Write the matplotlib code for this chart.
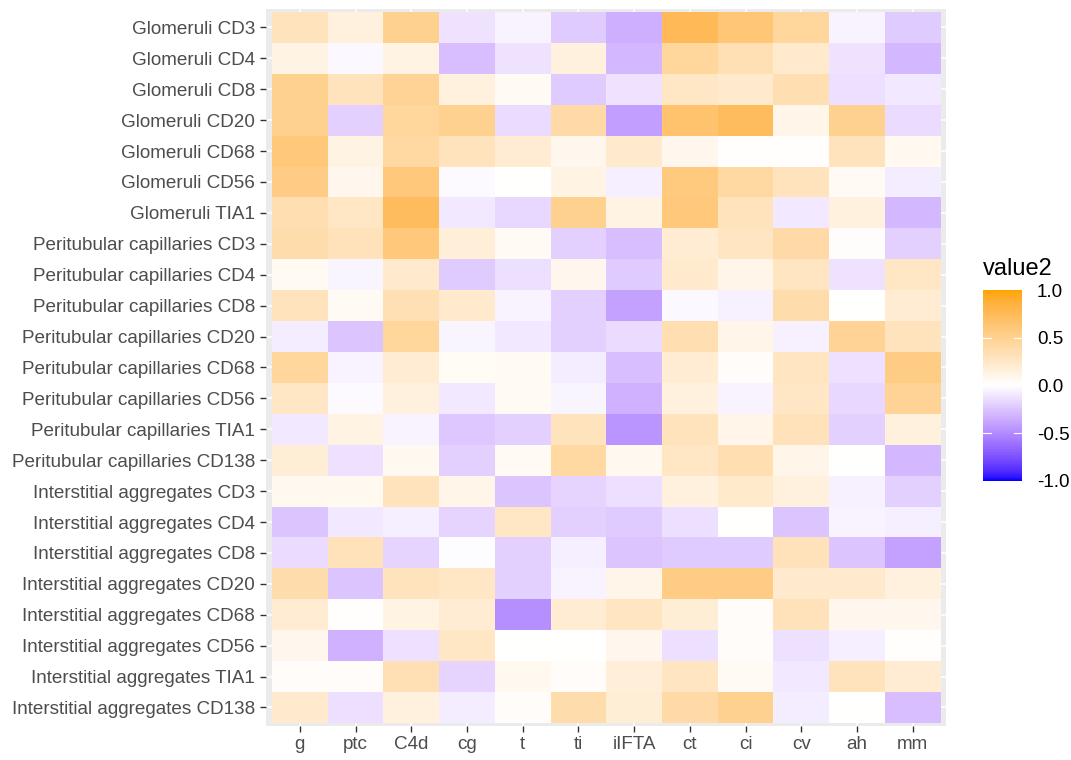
import numpy as np
import matplotlib
matplotlib.use("Agg")
import matplotlib.pyplot as plt
from matplotlib.colors import ListedColormap

rows = ["Glomeruli CD3", "Glomeruli CD4", "Glomeruli CD8", "Glomeruli CD20",
        "Glomeruli CD68", "Glomeruli CD56", "Glomeruli TIA1",
        "Peritubular capillaries CD3", "Peritubular capillaries CD4",
        "Peritubular capillaries CD8", "Peritubular capillaries CD20",
        "Peritubular capillaries CD68", "Peritubular capillaries CD56",
        "Peritubular capillaries TIA1", "Peritubular capillaries CD138",
        "Interstitial aggregates CD3", "Interstitial aggregates CD4",
        "Interstitial aggregates CD8", "Interstitial aggregates CD20",
        "Interstitial aggregates CD68", "Interstitial aggregates CD56",
        "Interstitial aggregates TIA1", "Interstitial aggregates CD138"]
cols = ["g", "ptc", "C4d", "cg", "t", "ti", "iIFTA", "ct", "ci", "cv", "ah", "mm"]

# one list per row, in column order
glom_cd3 = [0.30, 0.15, 0.50, -0.12, -0.05, -0.22, -0.35, 0.75, 0.62, 0.45, -0.05, -0.22]
glom_cd4 = [0.12, -0.03, 0.12, -0.28, -0.12, 0.15, -0.30, 0.45, 0.33, 0.22, -0.12, -0.30]
glom_cd8 = [0.50, 0.30, 0.48, 0.15, 0.05, -0.22, -0.12, 0.25, 0.22, 0.35, -0.14, -0.10]
glom_cd20 = [0.50, -0.20, 0.45, 0.50, -0.15, 0.40, -0.42, 0.65, 0.73, 0.10, 0.50, -0.15]
glom_cd68 = [0.60, 0.12, 0.42, 0.30, 0.20, 0.08, 0.22, 0.08, 0.01, 0.01, 0.30, 0.07]
glom_cd56 = [0.55, 0.08, 0.60, -0.02, 0.00, 0.12, -0.07, 0.58, 0.42, 0.30, 0.05, -0.08]
glom_tia1 = [0.35, 0.25, 0.73, -0.10, -0.17, 0.50, 0.12, 0.60, 0.30, -0.10, 0.15, -0.30]
ptc_cd3 = [0.38, 0.32, 0.60, 0.17, 0.05, -0.20, -0.28, 0.20, 0.28, 0.40, 0.02, -0.20]
ptc_cd4 = [0.06, -0.04, 0.22, -0.22, -0.14, 0.08, -0.22, 0.22, 0.10, 0.28, -0.12, 0.25]
ptc_cd8 = [0.30, 0.05, 0.33, 0.22, -0.05, -0.20, -0.40, -0.03, -0.06, 0.38, 0.00, 0.20]
ptc_cd20 = [-0.08, -0.25, 0.45, -0.04, -0.10, -0.20, -0.15, 0.35, 0.10, -0.06, 0.48, 0.30]
ptc_cd68 = [0.45, -0.05, 0.20, 0.04, 0.05, -0.08, -0.28, 0.20, 0.03, 0.28, -0.13, 0.55]
ptc_cd56 = [0.25, -0.02, 0.15, -0.10, 0.05, -0.04, -0.33, 0.15, -0.05, 0.25, -0.17, 0.48]
ptc_tia1 = [-0.10, 0.12, -0.05, -0.24, -0.20, 0.30, -0.46, 0.30, 0.10, 0.32, -0.20, 0.15]
ptc_cd138 = [0.18, -0.13, 0.07, -0.20, 0.05, 0.42, 0.07, 0.25, 0.35, 0.10, 0.00, -0.30]
ia_cd3 = [0.07, 0.07, 0.30, 0.10, -0.25, -0.18, -0.14, 0.15, 0.23, 0.15, -0.06, -0.20]
ia_cd4 = [-0.25, -0.10, -0.07, -0.18, 0.25, -0.20, -0.22, -0.14, 0.00, -0.25, -0.05, -0.07]
ia_cd8 = [-0.15, 0.32, -0.18, -0.01, -0.20, -0.07, -0.25, -0.22, -0.22, 0.32, -0.25, -0.40]
ia_cd20 = [0.38, -0.25, 0.30, 0.25, -0.20, -0.05, 0.10, 0.55, 0.55, 0.22, 0.22, 0.15]
ia_cd68 = [0.20, 0.01, 0.12, 0.20, -0.48, 0.20, 0.28, 0.18, 0.03, 0.32, 0.08, 0.08]
ia_cd56 = [0.08, -0.33, -0.13, 0.25, 0.00, 0.00, 0.08, -0.14, 0.03, -0.13, -0.07, 0.01]
ia_tia1 = [0.03, 0.03, 0.33, -0.18, 0.07, 0.03, 0.17, 0.28, 0.05, -0.10, 0.30, 0.20]
ia_cd138 = [0.22, -0.14, 0.15, -0.08, 0.03, 0.38, 0.18, 0.40, 0.50, -0.08, 0.00, -0.28]

values = np.array([glom_cd3, glom_cd4, glom_cd8, glom_cd20, glom_cd68, glom_cd56,
                   glom_tia1, ptc_cd3, ptc_cd4, ptc_cd8, ptc_cd20, ptc_cd68,
                   ptc_cd56, ptc_tia1, ptc_cd138, ia_cd3, ia_cd4, ia_cd8,
                   ia_cd20, ia_cd68, ia_cd56, ia_tia1, ia_cd138])


# ggplot-like gradient2 (blue - white - orange), interpolated in CIELAB
def srgb_to_lab(rgb):
    c = np.asarray(rgb, float)
    lin = np.where(c <= 0.04045, c / 12.92, ((c + 0.055) / 1.055) ** 2.4)
    m = np.array([[0.4124, 0.3576, 0.1805],
                  [0.2126, 0.7152, 0.0722],
                  [0.0193, 0.1192, 0.9505]])
    xyz = m @ lin / np.array([0.95047, 1.0, 1.08883])
    f = np.where(xyz > 0.008856, np.cbrt(xyz), 7.787 * xyz + 16 / 116)
    return np.array([116 * f[1] - 16, 500 * (f[0] - f[1]), 200 * (f[1] - f[2])])


def lab_to_srgb(lab):
    L, a, b = lab
    fy = (L + 16) / 116
    f = np.array([fy + a / 500, fy, fy - b / 200])
    xyz = np.where(f ** 3 > 0.008856, f ** 3, (f - 16 / 116) / 7.787)
    xyz = xyz * np.array([0.95047, 1.0, 1.08883])
    m = np.array([[3.2406, -1.5372, -0.4986],
                  [-0.9689, 1.8758, 0.0415],
                  [0.0557, -0.2040, 1.0570]])
    lin = np.clip(m @ xyz, 0, 1)
    c = np.where(lin <= 0.0031308, 12.92 * lin, 1.055 * lin ** (1 / 2.4) - 0.055)
    return np.clip(c, 0, 1)


lab_lo = srgb_to_lab([0, 0, 1])
lab_mid = srgb_to_lab([1, 1, 1])
lab_hi = srgb_to_lab([1, 165 / 255, 0])
cmap_colors = []
for t in np.linspace(-1, 1, 256):
    if t < 0:
        lab = lab_mid + (lab_lo - lab_mid) * (-t)
    else:
        lab = lab_mid + (lab_hi - lab_mid) * t
    cmap_colors.append(lab_to_srgb(lab))
cmap = ListedColormap(cmap_colors)

plt.rcParams['font.family'] = ['Liberation Sans', 'DejaVu Sans']

fig = plt.figure(figsize=(10.71, 7.6), dpi=100)
ax = fig.add_axes([0.2487, 0.0447, 0.6348, 0.9436])
ax.set_facecolor("#EBEBEB")
nr, nc = values.shape
xx, yy = np.meshgrid(np.arange(nc + 1) - 0.5, np.arange(nr + 1) - 0.5)
im = ax.pcolormesh(xx, yy, values, cmap=cmap, vmin=-1, vmax=1, zorder=2)
ax.set_xlim(-0.6, nc - 0.4)
ax.set_ylim(nr - 0.4, -0.6)
ax.set_xticks(range(nc))
ax.set_xticklabels(cols)
ax.set_yticks(range(nr))
ax.set_yticklabels(rows)
ax.grid(True, color="white", linewidth=1.1, zorder=1)
ax.set_axisbelow(True)
for s in ax.spines.values():
    s.set_visible(False)
ax.tick_params(axis="both", colors="#333333", labelcolor="#4D4D4D",
               labelsize=13.6, length=4.5, width=1)
ax.tick_params(axis="x", pad=3)

cax = fig.add_axes([0.918, 0.3675, 0.0358, 0.2508])
cb = fig.colorbar(im, cax=cax, ticks=[-1, -0.5, 0, 0.5, 1])
cb.outline.set_visible(False)
cb.ax.set_yticklabels(["-1.0", "-0.5", "0.0", "0.5", "1.0"])
cb.ax.tick_params(length=0, labelsize=13.6, labelcolor="black", pad=11)
for v in [-0.5, 0, 0.5]:
    cax.plot([0, 0.2], [v, v], color="white", lw=0.8)
    cax.plot([0.8, 1], [v, v], color="white", lw=0.8)
fig.text(0.918, 0.638, "value2", fontsize=17, ha="left", va="baseline")

fig.savefig("out.png", dpi=100)
